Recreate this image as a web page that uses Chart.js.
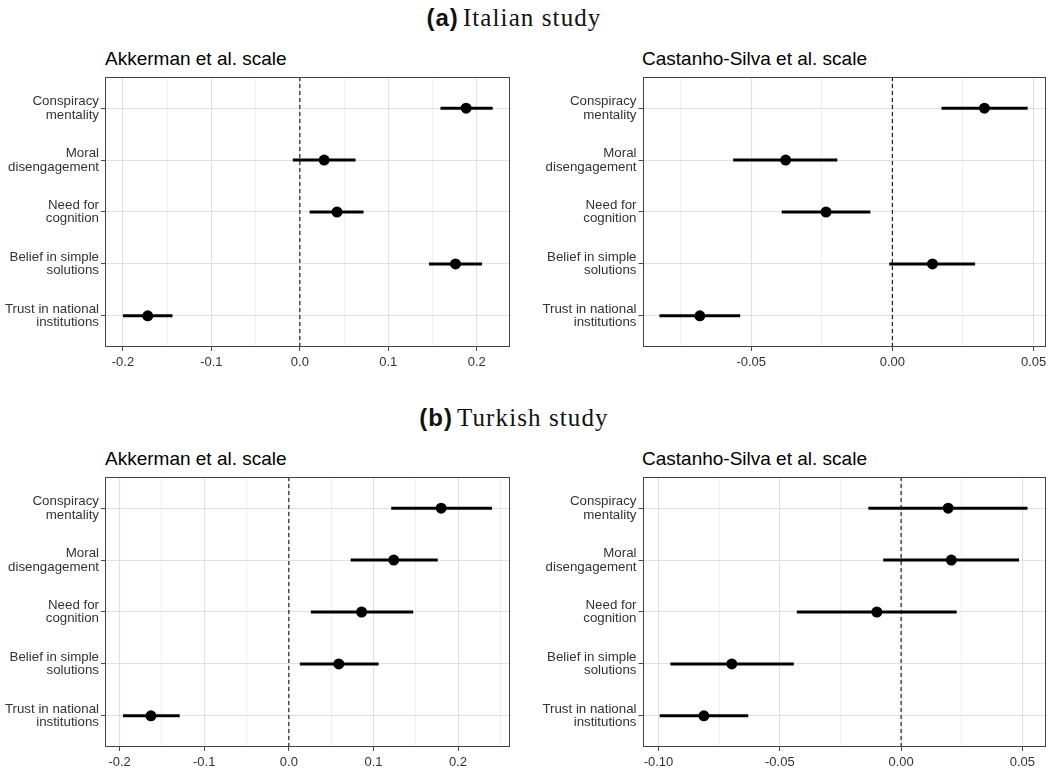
<!DOCTYPE html>
<html>
<head>
<meta charset="utf-8">
<script src="https://cdn.jsdelivr.net/npm/chart.js@4.4.1/dist/chart.umd.min.js"></script>
<style>
  body { margin: 0; background: #fff; width: 1055px; height: 770px; overflow: hidden; position: relative; }
  canvas { position: absolute; }
  .main { position: absolute; left: 0; width: 1028px; text-align: center; line-height: 28px; color: #111; }
  .main b { font-family: "Liberation Sans", Arial, sans-serif; font-size: 24px; letter-spacing: 1px; }
  .main span { font-family: "Liberation Serif", "Times New Roman", serif; font-size: 25px; letter-spacing: 1.1px; }
  .sub { position: absolute; font-family: "Liberation Sans", Arial, sans-serif; font-size: 19px; line-height: 19px; color: #000; white-space: nowrap; }
</style>
</head>
<body>
<div class="main" style="top:4px"><b>(a)</b> <span>Italian study</span></div>
<div class="sub" style="left:105px; top:49px">Akkerman et al. scale</div>
<div class="sub" style="left:642px; top:49px">Castanho-Silva et al. scale</div>
<canvas id="itAkk" width="520" height="303" style="left:0; top:70px"></canvas>
<canvas id="itCas" width="525" height="303" style="left:530px; top:70px"></canvas>

<div class="main" style="top:404px"><b>(b)</b> <span>Turkish study</span></div>
<div class="sub" style="left:105px; top:449px">Akkerman et al. scale</div>
<div class="sub" style="left:642px; top:449px">Castanho-Silva et al. scale</div>
<canvas id="trAkk" width="520" height="303" style="left:0; top:470px"></canvas>
<canvas id="trCas" width="525" height="303" style="left:530px; top:470px"></canvas>

<script>
// categories, top to bottom
const factors = [
  ["Conspiracy", "mentality"],
  ["Moral", "disengagement"],
  ["Need for", "cognition"],
  ["Belief in simple", "solutions"],
  ["Trust in national", "institutions"]
];

// Italian study, Akkerman et al. scale
const itAkkEst = [0.188, 0.0275, 0.042, 0.176, -0.172];
const itAkkLow = [0.159, -0.008, 0.011, 0.146, -0.200];
const itAkkHigh = [0.218, 0.063, 0.072, 0.206, -0.144];

// Italian study, Castanho-Silva et al. scale
const itCasEst = [0.0326, -0.0378, -0.0235, 0.0142, -0.0682];
const itCasLow = [0.0174, -0.0564, -0.0392, -0.0011, -0.0825];
const itCasHigh = [0.0479, -0.0195, -0.0078, 0.0293, -0.0539];

// Turkish study, Akkerman et al. scale
const trAkkEst = [0.180, 0.124, 0.086, 0.059, -0.163];
const trAkkLow = [0.121, 0.073, 0.026, 0.013, -0.196];
const trAkkHigh = [0.240, 0.176, 0.147, 0.106, -0.129];

// Turkish study, Castanho-Silva et al. scale
const trCasEst = [0.0194, 0.0207, -0.0100, -0.0698, -0.0813];
const trCasLow = [-0.0135, -0.0074, -0.0430, -0.0951, -0.0995];
const trCasHigh = [0.0521, 0.0486, 0.0229, -0.0442, -0.0630];

// tick labels
const akkTicks = [-0.2, -0.1, 0, 0.1, 0.2];
const akkTickLabels = ["-0.2", "-0.1", "0.0", "0.1", "0.2"];
const itCasTicks = [-0.05, 0, 0.05];
const itCasTickLabels = ["-0.05", "0.00", "0.05"];
const trCasTicks = [-0.1, -0.05, 0, 0.05];
const trCasTickLabels = ["-0.10", "-0.05", "0.00", "0.05"];

Chart.defaults.font.family = '"Liberation Sans", Arial, sans-serif';

const panelBorder = {
  id: "panelBorder",
  afterDraw(chart) {
    const a = chart.chartArea;
    const c = chart.ctx;
    c.save();
    c.strokeStyle = "#444";
    c.lineWidth = 1;
    c.strokeRect(Math.round(a.left) + 0.5, Math.round(a.top) + 0.5, Math.round(a.right - a.left) - 1, Math.round(a.bottom - a.top) - 1);
    c.restore();
  }
};

const near = (a, b) => Math.abs(a - b) < 1e-9;

function makePanel(id, est, low, high, xmin, xmax, ticks, tickLabels, yWidth, rightPad) {
  const step = ticks[1] - ticks[0];
  const minor = [];
  for (let i = -1; i < ticks.length; i++) {
    const m = (i < 0 ? ticks[0] - step : ticks[i]) + step / 2;
    if (m > xmin && m < xmax) minor.push(m);
  }
  const allTicks = ticks.concat(minor).sort((a, b) => a - b);
  const isMajor = v => ticks.some(t => near(t, v));

  const datasets = [];
  datasets.push({
    data: est.map((v, i) => ({ x: v, y: i + 1 })),
    pointRadius: 5.5,
    pointBackgroundColor: "#000",
    pointBorderWidth: 0
  });
  est.forEach((v, i) => {
    datasets.push({
      data: [{ x: low[i], y: i + 1 }, { x: high[i], y: i + 1 }],
      showLine: true,
      borderColor: "#000",
      borderWidth: 3,
      borderCapStyle: "butt",
      pointRadius: 0
    });
  });
  datasets.push({
    data: [{ x: 0, y: 0.4 }, { x: 0, y: 5.6 }],
    showLine: true,
    borderColor: "#222",
    borderWidth: 1.2,
    borderDash: [4, 3],
    pointRadius: 0
  });

  new Chart(document.getElementById(id), {
    type: "scatter",
    data: { datasets },
    options: {
      responsive: false,
      animation: false,
      devicePixelRatio: 1,
      layout: { padding: { top: 7, right: rightPad, left: 0, bottom: 0 } },
      plugins: { legend: { display: false }, tooltip: { enabled: false } },
      scales: {
        x: {
          type: "linear",
          min: xmin,
          max: xmax,
          afterBuildTicks: s => { s.ticks = allTicks.map(v => ({ value: v })); },
          afterFit: s => { s.height = 26; s.paddingLeft = 0; s.paddingRight = 0; },
          border: { display: false },
          grid: {
            color: ctx => (ctx.tick && isMajor(ctx.tick.value)) ? "#e0e0e0" : "#eaeaea",
            lineWidth: ctx => (ctx.tick && isMajor(ctx.tick.value)) ? 1.1 : 0.8,
            tickLength: 4,
            tickWidth: 1,
            tickColor: ctx => (ctx.tick && isMajor(ctx.tick.value)) ? "#444" : "rgba(0,0,0,0)"
          },
          ticks: {
            autoSkip: false,
            maxRotation: 0,
            padding: 4,
            color: "#333",
            font: { size: 13 },
            callback: v => {
              const k = ticks.findIndex(t => near(t, v));
              return k >= 0 ? tickLabels[k] : "";
            }
          }
        },
        y: {
          type: "linear",
          min: 0.4,
          max: 5.6,
          reverse: true,
          afterBuildTicks: s => { s.ticks = factors.map((f, i) => ({ value: i + 1 })); },
          afterFit: s => { s.width = yWidth; s.paddingTop = 0; s.paddingBottom = 0; },
          border: { display: false },
          grid: {
            color: "#e0e0e0",
            lineWidth: 1.1,
            tickLength: 4,
            tickWidth: 1,
            tickColor: "#444"
          },
          ticks: {
            autoSkip: false,
            padding: 2,
            color: "#333",
            font: { size: 13.3, lineHeight: 1.02 },
            callback: v => factors[Math.round(v) - 1]
          }
        }
      }
    },
    plugins: [panelBorder]
  });
}

makePanel("itAkk", itAkkEst, itAkkLow, itAkkHigh, -0.2203, 0.2376, akkTicks, akkTickLabels, 105, 10);
makePanel("itCas", itCasEst, itCasLow, itCasHigh, -0.0885, 0.0543, itCasTicks, itCasTickLabels, 112.5, 9.3);
makePanel("trAkk", trAkkEst, trAkkLow, trAkkHigh, -0.2173, 0.2614, akkTicks, akkTickLabels, 105, 10);
makePanel("trCas", trCasEst, trCasLow, trCasHigh, -0.1066, 0.0596, trCasTicks, trCasTickLabels, 112.5, 9.3);
</script>
</body>
</html>
